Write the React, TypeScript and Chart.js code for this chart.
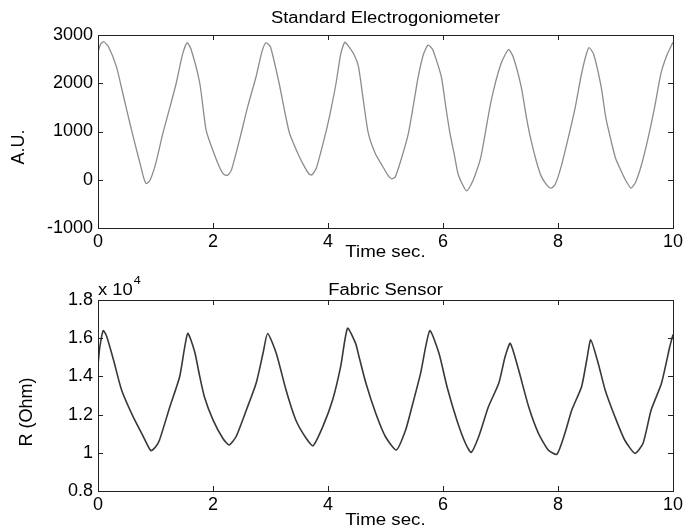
import React, { useEffect, useRef } from "react";
import { Chart, registerables } from "chart.js";

Chart.register(...registerables);

// ---- Data ----
const timeTop = [
  0.0, 0.05, 0.1, 0.18, 0.32, 0.42, 0.5, 0.6, 0.67, 0.75, 0.8, 0.84, 0.9, 1.0, 1.13, 1.25, 1.36, 1.47, 1.55, 1.62,
  1.77, 1.88, 2.0, 2.11, 2.18, 2.25, 2.32, 2.46, 2.6, 2.75, 2.85, 2.92, 3.0, 3.15, 3.25, 3.33, 3.5, 3.6, 3.67, 3.72,
  3.8, 3.96, 4.05, 4.14, 4.22, 4.29, 4.35, 4.45, 4.53, 4.62, 4.7, 4.82, 4.95, 5.05, 5.11, 5.17, 5.28, 5.4, 5.5, 5.57,
  5.66, 5.74, 5.82, 5.97, 6.05, 6.12, 6.2, 6.26, 6.34, 6.41, 6.48, 6.56, 6.66, 6.84, 7.01, 7.14, 7.22, 7.36, 7.45, 7.53,
  7.62, 7.71, 7.8, 7.88, 7.95, 8.05, 8.17, 8.3, 8.4, 8.48, 8.54, 8.62, 8.75, 8.83, 8.92, 9.0, 9.09, 9.18, 9.27, 9.35,
  9.45, 9.56, 9.68, 9.79, 9.9, 10.0,
];
const valuesTop = [
  2650, 2820, 2860, 2760, 2345, 1850, 1445, 950, 620, 250, 20, -80, -20, 320, 970, 1500, 2000, 2600, 2840, 2700,
  2000, 1030, 600, 270, 120, 90, 200, 820, 1500, 2140, 2650, 2840, 2750, 2000, 1400, 970, 480, 250, 120, 100,
  250, 970, 1450, 2000, 2600, 2850, 2780, 2600, 2345, 1600, 970, 550, 280, 80, 20, 60, 450, 970, 1650, 2140,
  2600, 2790, 2700, 2140, 1500, 970, 500, 130, -100, -230, -120, 100, 480, 1650, 2410, 2700, 2550, 1930, 1300, 825,
  400, 70, -100, -175, -100, 250, 825, 1500, 2140, 2550, 2740, 2600, 1930, 1300, 825, 450, 200, -20, -175, -50,
  300, 825, 1500, 2200, 2600, 2850,
];

const timeBottom = [
  0.0, 0.03, 0.09, 0.15, 0.27, 0.41, 0.61, 0.79, 0.92, 1.0, 1.07, 1.25, 1.42, 1.56, 1.68, 1.77, 1.85, 2.0, 2.17,
  2.28, 2.4, 2.58, 2.75, 2.87, 2.95, 3.1, 3.27, 3.44, 3.62, 3.74, 3.91, 4.08, 4.22, 4.34, 4.48, 4.54, 4.66, 4.83, 5.0,
  5.19, 5.35, 5.46, 5.61, 5.77, 5.93, 6.07, 6.24, 6.39, 6.49, 6.62, 6.79, 6.97, 7.08, 7.17, 7.31, 7.49, 7.66, 7.83, 7.98,
  8.12, 8.24, 8.41, 8.5, 8.57, 8.7, 8.82, 8.99, 9.16, 9.34, 9.48, 9.62, 9.8, 9.94, 10.0,
];
const valuesBottom = [
  14600, 15500, 16400, 16100, 14860, 13290, 11890, 10840, 10110, 10300, 10670, 12410, 13980, 16250, 15300, 13990, 12940, 11720, 10760,
  10410, 10840, 12240, 13640, 15210, 16250, 15210, 13290, 11720, 10760, 10370, 11370, 12760, 14510, 16520, 15730, 15030, 13640, 12070, 10840,
  10150, 11190, 12410, 14160, 16390, 15210, 13460, 11720, 10500, 10020, 10840, 12410, 13640, 15030, 15730, 14400, 12410, 11020, 10150, 9920,
  11020, 12240, 13460, 14860, 15910, 14680, 13290, 11890, 10670, 9970, 10500, 12240, 13640, 15500, 16200,
];

const xTicks = [0, 2, 4, 6, 8, 10];
const yTicksTop = [-1000, 0, 1000, 2000, 3000];
const yTicksBottom = [8000, 10000, 12000, 14000, 16000, 18000];

const FONT = '"Liberation Sans", Arial, sans-serif';
const STRETCH = 1.15;

type TextSpec = {
  title: string;
  titleY: number;
  yLabel: string;
  yLabelX: number;
  yLabelY: number;
  xLabelY: number;
  multiplier?: boolean;
};

function stretchedText(ctx: CanvasRenderingContext2D, text: string, x: number, y: number, size: number, align: "left" | "center", sx: number) {
  ctx.save();
  ctx.font = `${size}px ${FONT}`;
  ctx.textAlign = align;
  ctx.textBaseline = "alphabetic";
  ctx.translate(x, y);
  ctx.scale(sx, 1);
  ctx.fillText(text, 0, 0);
  const w = ctx.measureText(text).width * sx;
  ctx.restore();
  return w;
}

function makeDecorPlugin(spec: TextSpec) {
  return {
    id: "decor",
    afterDraw(chart: any) {
      const ctx = chart.ctx as CanvasRenderingContext2D;
      const a = chart.chartArea;
      const xs = chart.scales.x;
      const ys = chart.scales.y;
      ctx.save();
      ctx.strokeStyle = "#222";
      ctx.lineWidth = 1;
      ctx.strokeRect(Math.round(a.left) + 0.5, Math.round(a.top) + 0.5, Math.round(a.right - a.left), Math.round(a.bottom - a.top));
      const tl = 5;
      ctx.beginPath();
      xs.ticks.forEach((t: any) => {
        const px = Math.round(xs.getPixelForValue(t.value)) + 0.5;
        ctx.moveTo(px, a.bottom);
        ctx.lineTo(px, a.bottom - tl);
        ctx.moveTo(px, a.top);
        ctx.lineTo(px, a.top + tl);
      });
      ys.ticks.forEach((t: any) => {
        const py = Math.round(ys.getPixelForValue(t.value)) + 0.5;
        ctx.moveTo(a.left, py);
        ctx.lineTo(a.left + tl, py);
        ctx.moveTo(a.right, py);
        ctx.lineTo(a.right - tl, py);
      });
      ctx.stroke();

      ctx.fillStyle = "#000";
      const cx = (a.left + a.right) / 2;
      stretchedText(ctx, spec.title, cx, spec.titleY, 16, "center", STRETCH);
      stretchedText(ctx, "Time sec.", cx, spec.xLabelY, 17, "center", 1.1);
      ctx.save();
      ctx.font = `18px ${FONT}`;
      ctx.textAlign = "center";
      ctx.translate(spec.yLabelX, spec.yLabelY);
      ctx.rotate(-Math.PI / 2);
      ctx.textBaseline = "middle";
      ctx.fillText(spec.yLabel, 0, 0);
      ctx.restore();
      if (spec.multiplier) {
        const w = stretchedText(ctx, "x 10", a.left, spec.titleY, 16, "left", STRETCH);
        stretchedText(ctx, "4", a.left + w + 1, spec.titleY - 11, 11, "left", STRETCH);
      }
      ctx.restore();
    },
  };
}

function buildConfig(
  times: number[],
  values: number[],
  color: string,
  width: number,
  yMin: number,
  yMax: number,
  yTicks: number[],
  xAxisHeight: number,
  fmt: (v: number) => string,
  spec: TextSpec
): any {
  return {
    type: "line",
    data: {
      datasets: [
        {
          data: times.map((t, i) => ({ x: t, y: values[i] })),
          borderColor: color,
          borderWidth: width,
          pointRadius: 0,
          tension: 0.2,
          fill: false,
        },
      ],
    },
    options: {
      responsive: false,
      animation: false,
      devicePixelRatio: 1,
      layout: { padding: { top: 35, right: 11, left: 0, bottom: 0 } },
      plugins: { legend: { display: false }, tooltip: { enabled: false }, title: { display: false } },
      scales: {
        x: {
          type: "linear",
          min: 0,
          max: 10,
          afterBuildTicks: (s: any) => {
            s.ticks = xTicks.map((v) => ({ value: v }));
          },
          afterFit: (s: any) => {
            s.height = xAxisHeight;
          },
          grid: { display: false, drawTicks: false },
          border: { display: false },
          ticks: { color: "#000", font: { family: FONT, size: 18 }, padding: 3, maxRotation: 0, autoSkip: false },
        },
        y: {
          type: "linear",
          min: yMin,
          max: yMax,
          afterBuildTicks: (s: any) => {
            s.ticks = yTicks.map((v) => ({ value: v }));
          },
          afterFit: (s: any) => {
            s.width = 98;
          },
          grid: { display: false, drawTicks: false },
          border: { display: false },
          ticks: {
            color: "#000",
            font: { family: FONT, size: 18 },
            padding: 5,
            autoSkip: false,
            callback: (v: any) => fmt(Number(v)),
          },
        },
      },
    },
    plugins: [makeDecorPlugin(spec)],
  };
}

export default function App() {
  const topRef = useRef<HTMLCanvasElement>(null);
  const botRef = useRef<HTMLCanvasElement>(null);

  useEffect(() => {
    const c1 = new Chart(
      topRef.current!,
      buildConfig(timeTop, valuesTop, "#8c8c8c", 1.3, -1000, 3000, yTicksTop, 37, (v) => String(v), {
        title: "Standard Electrogoniometer",
        titleY: 23,
        yLabel: "A.U.",
        yLabelX: 19,
        yLabelY: 147,
        xLabelY: 257,
      })
    );
    const c2 = new Chart(
      botRef.current!,
      buildConfig(
        timeBottom,
        valuesBottom,
        "#383838",
        1.6,
        8000,
        18000,
        yTicksBottom,
        38,
        (v) => String(parseFloat((v / 10000).toFixed(1))),
        {
          title: "Fabric Sensor",
          titleY: 30,
          yLabel: "R (Ohm)",
          yLabelX: 27,
          yLabelY: 147,
          xLabelY: 260,
          multiplier: true,
        }
      )
    );
    return () => {
      c1.destroy();
      c2.destroy();
    };
  }, []);

  return (
    <div style={{ position: "absolute", left: 0, top: 0, width: 686, height: 529, background: "#fff", overflow: "hidden" }}>
      <canvas ref={topRef} width={686} height={265} style={{ display: "block", width: 686, height: 265 }} />
      <canvas ref={botRef} width={686} height={264} style={{ display: "block", width: 686, height: 264 }} />
    </div>
  );
}
